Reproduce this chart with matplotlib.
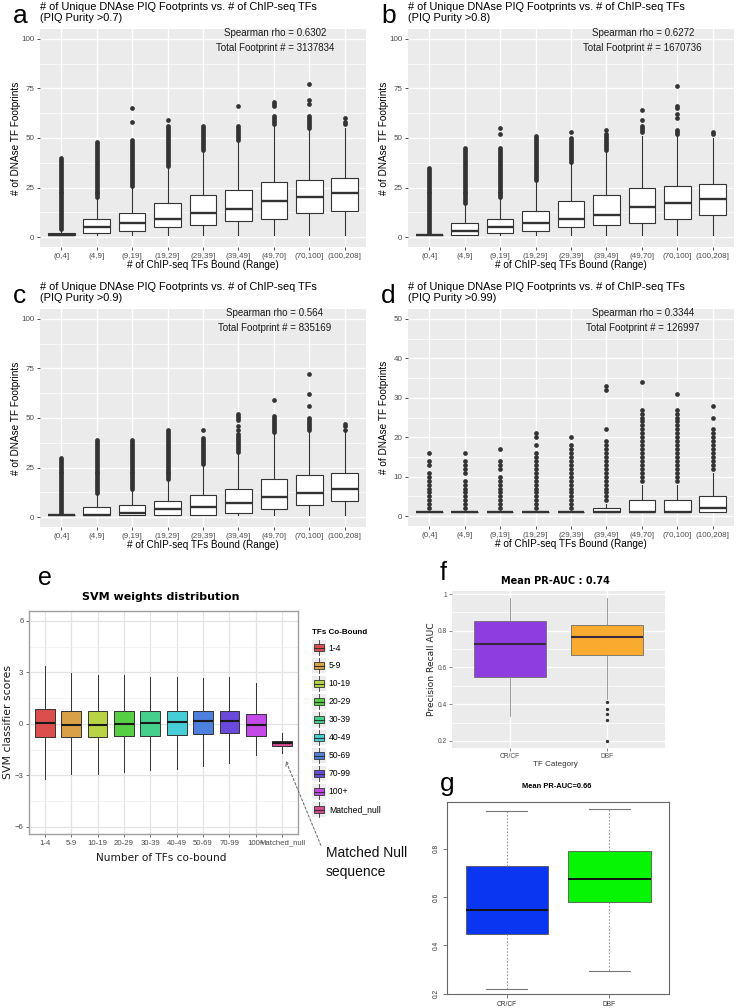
import numpy as np
import matplotlib
matplotlib.use("Agg")
import matplotlib.pyplot as plt
from matplotlib.patches import Patch, Rectangle
from matplotlib.lines import Line2D
from matplotlib.legend_handler import HandlerBase

plt.rcParams['font.family'] = ['Liberation Sans', 'DejaVu Sans']

# ---- panels a-d : PIQ footprints vs ChIP-seq TFs ----
cats = ['(0,4]', '(4,9]', '(9,19]', '(19,29]', '(29,39]', '(39,49]', '(49,70]', '(70,100]', '(100,208]']

a_q1 = [1, 2, 3, 5, 6, 8, 9, 12, 13]
a_med = [1, 5, 7, 9, 12, 14, 18, 20, 22]
a_q3 = [2, 9, 12, 17, 21, 24, 28, 29, 30]
a_lo = [1, 1, 1, 1, 1, 1, 1, 1, 1]
a_hi = [3, 19, 25, 35, 43, 48, 56, 54, 55]
a_dense = [(4, 40), (20, 48), (26, 49), (36, 56), (44, 56), (49, 56), (57, 61), (55, 61), (57, 58)]
a_extra = [[], [], [58, 65], [59], [], [66], [66, 67, 68], [67, 69, 77], [60]]

b_q1 = [1, 1, 2, 3, 5, 6, 7, 9, 11]
b_med = [1, 3, 5, 7, 9, 11, 15, 17, 19]
b_q3 = [1, 7, 9, 13, 18, 21, 25, 26, 27]
b_lo = [1, 1, 1, 1, 1, 1, 1, 1, 1]
b_hi = [1, 16, 19, 28, 37, 43, 51, 51, 50]
b_dense = [(2, 35), (17, 45), (20, 45), (29, 51), (38, 50), (44, 52), (53, 56), (52, 53), (52, 53)]
b_extra = [[], [], [52, 55], [], [53], [54], [59, 64], [54, 60, 62, 65, 66, 76], []]

c_q1 = [1, 1, 1, 1, 1, 2, 4, 6, 8]
c_med = [1, 1, 2, 4, 5, 7, 10, 12, 14]
c_q3 = [1, 5, 6, 8, 11, 14, 19, 21, 22]
c_lo = [1, 1, 1, 1, 1, 1, 1, 1, 1]
c_hi = [1, 11, 13, 18, 26, 32, 42, 43, 43]
c_dense = [(2, 30), (12, 39), (14, 39), (19, 44), (27, 40), (33, 42), (43, 51), (44, 50), (44, 44)]
c_extra = [[], [], [], [], [44], [44, 46, 49, 50, 51, 52], [59], [56, 62, 72], [46, 47]]

d_q1 = [1, 1, 1, 1, 1, 1, 1, 1, 1]
d_med = [1, 1, 1, 1, 1, 1, 1, 1, 2]
d_q3 = [1, 1, 1, 1, 1, 2, 4, 4, 5]
d_lo = [1, 1, 1, 1, 1, 1, 1, 1, 1]
d_hi = [1, 1, 1, 1, 1, 3, 8, 8, 11]
d_dense = [(2, 11), (2, 9), (2, 10), (2, 16), (2, 18), (4, 19), (9, 27), (9, 27), (12, 22)]
d_extra = [[13, 14, 16], [11, 12, 13, 14, 16], [12, 13, 14, 17], [18, 20, 21], [20],
           [22, 32, 33], [34], [31], [25, 28]]

rho = ['0.6302', '0.6272', '0.564', '0.3344']
total = ['3137834', '1670736', '835169', '126997']
purity = ['0.7', '0.8', '0.9', '0.99']

# ---- panel e : SVM weights ----
e_cats = ['1-4', '5-9', '10-19', '20-29', '30-39', '40-49', '50-69', '70-99', '100+', 'Matched_null']
e_q1 = [-0.74, -0.74, -0.74, -0.72, -0.68, -0.64, -0.58, -0.54, -0.70, -1.30]
e_med = [0.06, -0.04, -0.04, 0.02, 0.06, 0.10, 0.15, 0.19, -0.06, -1.12]
e_q3 = [0.87, 0.74, 0.74, 0.74, 0.74, 0.74, 0.74, 0.77, 0.58, -0.97]
e_lo = [-3.23, -2.90, -2.90, -2.77, -2.70, -2.61, -2.42, -2.28, -1.80, -1.70]
e_hi = [3.39, 2.96, 2.86, 2.86, 2.75, 2.75, 2.67, 2.75, 2.38, -0.55]
e_colors = ['#DC4E4E', '#D9A048', '#B8D445', '#57CF45', '#45D08C', '#46CDD6',
            '#4D7FDE', '#6A4ADC', '#C449E6', '#D4498F']

# ---- panel f : PR-AUC (ggplot) ----
f_cats = ['CR/CF', 'DBF']
f_q1 = [0.547, 0.666]
f_med = [0.726, 0.767]
f_q3 = [0.855, 0.833]
f_lo = [0.336, 0.43]
f_hi = [0.978, 0.978]
f_out = [[], [0.41, 0.373, 0.347, 0.315, 0.2]]
f_colors = ['#8E3DE0', '#F9AB30']

# ---- panel g : PR-AUC (base R) ----
g_cats = ['CR/CF', 'DBF']
g_q1 = [0.446, 0.579]
g_med = [0.547, 0.674]
g_q3 = [0.729, 0.792]
g_lo = [0.22, 0.292]
g_hi = [0.955, 0.965]
g_colors = ['#0A36F2', '#05F505']

W, H = 737, 1008
fig = plt.figure(figsize=(W / 100, H / 100), dpi=100)


def px_axes(l, t, r, b):
    return fig.add_axes([l / W, 1 - b / H, (r - l) / W, (b - t) / H])


def ftext(x, y, s, **kw):
    return fig.text(x / W, 1 - y / H, s, **kw)


def make_stats(q1, med, q3, lo, hi, dense=None, extra=None, fliers=None):
    out = []
    for i in range(len(med)):
        if fliers is not None:
            fl = list(fliers[i])
        else:
            fl = list(range(dense[i][0], dense[i][1] + 1)) + list(extra[i])
        out.append(dict(q1=q1[i], med=med[i], q3=q3[i], whislo=lo[i], whishi=hi[i], fliers=fl))
    return out


def gg_panel(l, t, r, b, stats, ylim, major, minor, k, letter):
    ax = px_axes(l, t, r, b)
    ax.set_facecolor('#EBEBEB')
    ax.bxp(stats, positions=range(1, 10), widths=0.75, patch_artist=True, showcaps=False,
           boxprops=dict(facecolor='white', edgecolor='#333333', lw=0.8),
           medianprops=dict(color='#333333', lw=1.7),
           whiskerprops=dict(color='#333333', lw=0.8),
           flierprops=dict(marker='o', markersize=3.4, markerfacecolor='#333333',
                           markeredgecolor='none'))
    ax.set_xlim(0.4, 9.6)
    ax.set_ylim(*ylim)
    ax.set_xticks(range(1, 10), cats)
    ax.set_yticks(major)
    ax.set_yticks(minor, minor=True)
    ax.set_axisbelow(True)
    ax.grid(which='major', color='white', lw=1.0)
    ax.grid(which='minor', axis='y', color='white', lw=0.5)
    for s in ax.spines.values():
        s.set_visible(False)
    ax.tick_params(which='major', length=2.5, width=0.6, color='#333333', labelsize=5.8,
                   labelcolor='#4D4D4D', pad=1.5)
    ax.tick_params(which='minor', length=0)
    ax.text(0.72, 0.98, 'Spearman rho = ' + rho[k], transform=ax.transAxes, ha='center',
            va='center', fontsize=7, color='#1A1A1A')
    ax.text(0.72, 0.913, 'Total Footprint # = ' + total[k], transform=ax.transAxes,
            ha='center', va='center', fontsize=7, color='#1A1A1A')
    ftext(l, t - 27, '# of Unique DNAse PIQ Footprints vs. # of ChIP-seq TFs\n(PIQ Purity >'
          + purity[k] + ')', ha='left', va='top', fontsize=7.9, linespacing=1.12)
    ftext((l + r) / 2, b + 18, '# of ChIP-seq TFs Bound (Range)', ha='center', va='center',
          fontsize=7.2)
    ftext(l - 24, (t + b) / 2, '# of DNAse TF Footprints', ha='center', va='center',
          rotation=90, fontsize=7.2)
    ftext(l - 27, t - 6, letter, ha='left', va='baseline', fontsize=19)
    return ax


ticks100 = [0, 25, 50, 75, 100]
minor100 = [12.5, 37.5, 62.5, 87.5]
gg_panel(40, 29, 366, 247, make_stats(a_q1, a_med, a_q3, a_lo, a_hi, a_dense, a_extra),
         (-5, 105), ticks100, minor100, 0, 'a')
gg_panel(408, 29, 734, 247, make_stats(b_q1, b_med, b_q3, b_lo, b_hi, b_dense, b_extra),
         (-5, 105), ticks100, minor100, 1, 'b')
gg_panel(40, 309, 366, 527, make_stats(c_q1, c_med, c_q3, c_lo, c_hi, c_dense, c_extra),
         (-5, 105), ticks100, minor100, 2, 'c')
gg_panel(408, 309, 734, 526, make_stats(d_q1, d_med, d_q3, d_lo, d_hi, d_dense, d_extra),
         (-2.5, 52.5), [0, 10, 20, 30, 40, 50], [5, 15, 25, 35, 45], 3, 'd')

# ---- panel e ----
ax_e = px_axes(29, 611, 298, 834)
bp = ax_e.bxp(make_stats(e_q1, e_med, e_q3, e_lo, e_hi, fliers=[[]] * 10),
              positions=range(1, 11), widths=0.75, patch_artist=True, showcaps=False,
              boxprops=dict(edgecolor='#333333', lw=0.7),
              medianprops=dict(color='#1A1A1A', lw=1.5),
              whiskerprops=dict(color='#333333', lw=0.7))
for patch, col in zip(bp['boxes'], e_colors):
    patch.set_facecolor(col)
ax_e.set_xlim(0.4, 10.6)
ax_e.set_ylim(-6.41, 6.58)
ax_e.set_yticks([-6, -3, 0, 3, 6], ['\u22126', '\u22123', '0', '3', '6'])
ax_e.set_yticks([-4.5, -1.5, 1.5, 4.5], minor=True)
ax_e.set_xticks(range(1, 11), e_cats)
ax_e.set_axisbelow(True)
ax_e.grid(which='major', color='#E3E3E3', lw=0.9)
ax_e.grid(which='minor', axis='y', color='#EEEEEE', lw=0.5)
for s in ax_e.spines.values():
    s.set_color('#A0A0A0')
    s.set_linewidth(1.0)
ax_e.tick_params(which='major', length=2.5, width=0.6, color='#555555', labelsize=5.6,
                 labelcolor='#4D4D4D', pad=1.5)
ax_e.tick_params(which='minor', length=0)
ftext(161, 597, 'SVM weights distribution', ha='center', va='center', fontsize=8,
      fontweight='bold', family='DejaVu Sans')
ftext(161, 858, 'Number of TFs co-bound', ha='center', va='center', fontsize=7.6,
      family='DejaVu Sans', color='#1A1A1A')
ftext(8, 722, 'SVM classifier scores', ha='center', va='center', rotation=90, fontsize=7.8,
      family='DejaVu Sans', color='#1A1A1A')
ftext(38, 585, 'e', ha='left', va='baseline', fontsize=18)


class BoxKey(HandlerBase):
    def create_artists(self, legend, orig_handle, xd, yd, width, height, fontsize, trans):
        x0, y0 = -xd, -yd
        bg = Rectangle((x0, y0 - 1), width, height + 2, facecolor='#EDEDED', edgecolor='none',
                       transform=trans)
        wl = Line2D([x0 + width / 2] * 2, [y0 - 1, y0 + height + 1], color='#333333', lw=0.6,
                    transform=trans)
        bx = Rectangle((x0 + width * 0.12, y0 + height * 0.22), width * 0.76, height * 0.56,
                       facecolor=orig_handle.get_facecolor(), edgecolor='#333333', lw=0.6,
                       transform=trans)
        md = Line2D([x0 + width * 0.12, x0 + width * 0.88], [y0 + height / 2] * 2,
                    color='#333333', lw=0.8, transform=trans)
        return [bg, wl, bx, md]


handles = [Patch(facecolor=c) for c in e_colors]
leg = ax_e.legend(handles, e_cats, handler_map={Patch: BoxKey()}, loc='upper left',
                  bbox_to_anchor=(312 / W, 1 - 629 / H), bbox_transform=fig.transFigure,
                  frameon=False, fontsize=6, handlelength=1.6, handleheight=1.85,
                  labelspacing=0.64, handletextpad=0.35, borderpad=0, borderaxespad=0,
                  title='TFs Co-Bound', alignment='left',
                  title_fontproperties=dict(weight='bold', size=5.8),
                  prop=dict(size=6.2))

ax_e.annotate('', xy=(10.1, -2.0), xycoords='data', xytext=(322 / W, 1 - 848 / H),
              textcoords='figure fraction', annotation_clip=False,
              arrowprops=dict(arrowstyle='->', linestyle=(0, (2.5, 2)), color='#666666',
                              lw=0.7, mutation_scale=7))
ftext(326, 846, 'Matched Null\nsequence', ha='left', va='top', fontsize=10,
      linespacing=1.45, color='#111111')

# ---- panel f ----
ax_f = px_axes(452, 591, 665, 748)
ax_f.set_facecolor('#EBEBEB')
bpf = ax_f.bxp(make_stats(f_q1, f_med, f_q3, f_lo, f_hi, fliers=f_out), positions=[1, 2],
               widths=0.75, patch_artist=True, showcaps=False,
               boxprops=dict(edgecolor='#6E6E6E', lw=0.6),
               medianprops=dict(color='#3A2A40', lw=1.5),
               whiskerprops=dict(color='#8A8A8A', lw=0.6),
               flierprops=dict(marker='o', markersize=2.4, markerfacecolor='#333333',
                               markeredgecolor='none'))
for patch, col in zip(bpf['boxes'], f_colors):
    patch.set_facecolor(col)
ax_f.set_xlim(0.4, 2.6)
ax_f.set_ylim(0.161, 1.017)
ax_f.set_yticks([0.2, 0.4, 0.6, 0.8, 1.0], ['0.2', '0.4', '0.6', '0.8', '1'])
ax_f.set_yticks([0.3, 0.5, 0.7, 0.9], minor=True)
ax_f.set_xticks([1, 2], f_cats)
ax_f.set_axisbelow(True)
ax_f.grid(which='major', color='white', lw=1.0)
ax_f.grid(which='minor', axis='y', color='white', lw=0.5)
for s in ax_f.spines.values():
    s.set_visible(False)
ax_f.tick_params(which='major', length=2, width=0.5, color='#555555', labelsize=4.8,
                 labelcolor='#4D4D4D', pad=1.5)
ax_f.tick_params(which='minor', length=0)
ftext(555, 581, 'Mean PR-AUC : 0.74', ha='center', va='center', fontsize=7, fontweight='bold',
      family='DejaVu Sans')
ftext(555, 765, 'TF Category', ha='center', va='center', fontsize=5.8, color='#333333')
ftext(432, 669, 'Precision Recall AUC', ha='center', va='center', rotation=90, fontsize=6.6,
      family='DejaVu Sans', color='#222222')
ftext(440, 580, 'f', ha='left', va='baseline', fontsize=18)

# ---- panel g ----
ax_g = px_axes(447, 802, 669, 994)
bpg = ax_g.bxp(make_stats(g_q1, g_med, g_q3, g_lo, g_hi, fliers=[[], []]), positions=[1, 2],
               widths=0.8, patch_artist=True, capwidths=0.4,
               boxprops=dict(edgecolor='#555555', lw=0.6),
               medianprops=dict(color='#111111', lw=1.4),
               whiskerprops=dict(color='#9A9A9A', lw=0.8, linestyle=(0, (1.5, 1.5))),
               capprops=dict(color='#777777', lw=0.8))
for patch, col in zip(bpg['boxes'], g_colors):
    patch.set_facecolor(col)
ax_g.set_xlim(0.42, 2.58)
ax_g.set_ylim(0.198, 0.993)
ax_g.set_yticks([0.2, 0.4, 0.6, 0.8], ['0.2', '0.4', '0.6', '0.8'])
ax_g.set_xticks([1, 2], g_cats)
for s in ax_g.spines.values():
    s.set_color('#666666')
    s.set_linewidth(0.8)
ax_g.tick_params(length=3, width=0.6, color='#666666', labelsize=4.8, labelcolor='#333333',
                 pad=2)
for lab in ax_g.get_yticklabels():
    lab.set_rotation(90)
    lab.set_va('center')
ftext(557, 787, 'Mean PR-AUC=0.66', ha='center', va='center', fontsize=5.4, fontweight='bold')
ftext(440, 791, 'g', ha='left', va='baseline', fontsize=19)

fig.savefig('out.png', dpi=100)
